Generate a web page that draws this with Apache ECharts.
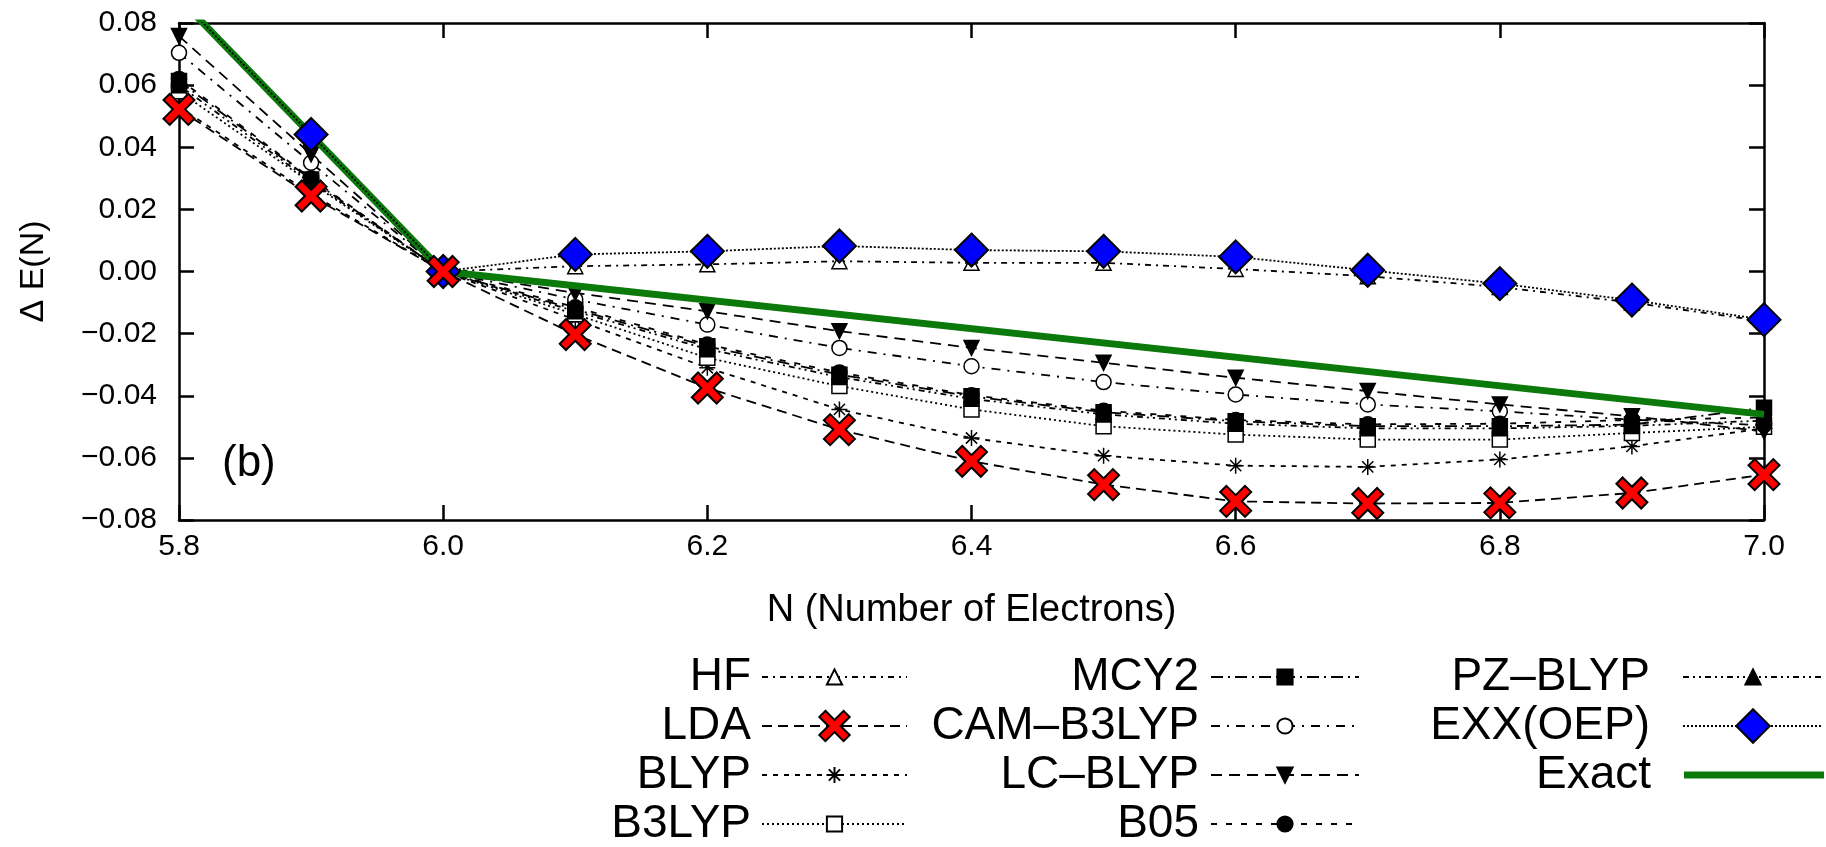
<!DOCTYPE html>
<html>
<head>
<meta charset="utf-8">
<script src="https://cdn.jsdelivr.net/npm/echarts@6/dist/echarts.min.js"></script>
<style>
  html, body { margin: 0; padding: 0; background: #fff; }
  #chart { width: 1826px; height: 847px; }
</style>
</head>
<body>
<div id="chart"></div>
<script>
// Number of electrons sampled on the x axis
const electronCount = [5.8, 5.9, 6.0, 6.1, 6.2, 6.3, 6.4, 6.5, 6.6, 6.7, 6.8, 6.9, 7.0];

// Delta E(N) for each method, one value per electron count
const hfValues    = [0.087, 0.043, 0, 0.0017, 0.0023, 0.0033, 0.0028, 0.0028, 0.0008, -0.0015, -0.0050, -0.0100, -0.0160];
const ldaValues   = [0.0522, 0.0243, 0, -0.0203, -0.0375, -0.0509, -0.0611, -0.0686, -0.0740, -0.0747, -0.0745, -0.0713, -0.0654];
const blypValues  = [0.0530, 0.0250, 0, -0.0155, -0.0310, -0.0444, -0.0536, -0.0593, -0.0625, -0.0629, -0.0605, -0.0563, -0.0505];
const b3lypValues = [0.0580, 0.0285, 0, -0.0138, -0.0278, -0.0369, -0.0444, -0.0498, -0.0525, -0.0541, -0.0541, -0.0520, -0.0500];
const mcy2Values  = [0.0613, 0.0296, 0, -0.0122, -0.0241, -0.0332, -0.0402, -0.0453, -0.0482, -0.0498, -0.0498, -0.0493, -0.0439];
const camValues   = [0.0704, 0.0350, 0, -0.0090, -0.0171, -0.0246, -0.0305, -0.0356, -0.0396, -0.0428, -0.0450, -0.0477, -0.0495];
const lcValues    = [0.0758, 0.0377, 0, -0.0069, -0.0128, -0.0192, -0.0246, -0.0294, -0.0342, -0.0385, -0.0428, -0.0466, -0.0515];
const b05Values   = [0.0620, 0.0300, 0, -0.0115, -0.0235, -0.0325, -0.0398, -0.0448, -0.0478, -0.0492, -0.0490, -0.0478, -0.0470];
const pzValues    = [0.0600, 0.0290, 0, -0.0128, -0.0250, -0.0340, -0.0410, -0.0460, -0.0490, -0.0505, -0.0505, -0.0497, -0.0480];
const exxValues   = [0.0880, 0.0441, 0, 0.0055, 0.0065, 0.0082, 0.0069, 0.0065, 0.0047, 0.0004, -0.0039, -0.0092, -0.0155];

// Exact piecewise-linear behaviour
const exactCount  = [5.8, 6.0, 7.0];
const exactValues = [0.088, 0.0, -0.046];

// Axis ranges and tick steps
const xRange = [5.8, 7.0];
const xStep = 0.2;
const yRange = [-0.08, 0.08];
const yStep = 0.02;

const FONT = 'Liberation Sans, Arial, Helvetica, sans-serif';
const pairs = (xs, ys) => xs.map((x, i) => [x, ys[i]]);

const crossPath = 'path://M2,0 L5,3 L8,0 L10,2 L7,5 L10,8 L8,10 L5,7 L2,10 L0,8 L3,5 L0,2 Z';
const starPath = 'path://M5,0 L5,10 M0,5 L10,5 M1.5,1.5 L8.5,8.5 M8.5,1.5 L1.5,8.5';

function methodSeries(name, values, opts) {
  return {
    name,
    type: 'line',
    data: pairs(electronCount, values),
    symbol: opts.symbol,
    symbolSize: opts.size || 15,
    symbolRotate: opts.rotate || 0,
    showAllSymbol: true,
    z: opts.z || 2,
    clip: true,
    lineStyle: { color: '#000', width: 1.8, type: opts.dash },
    itemStyle: Object.assign({ color: '#000', borderColor: '#000', borderWidth: 1.5 }, opts.item || {}),
    emphasis: { disabled: true },
    animation: false
  };
}

const series = [
  methodSeries('HF', hfValues, { symbol: 'triangle', item: { color: '#fff' }, dash: [6, 5, 2, 5] }),
  methodSeries('LDA', ldaValues, { symbol: crossPath, size: 31, z: 5, item: { color: '#ff0000', borderWidth: 2 }, dash: [10, 6] }),
  methodSeries('BLYP', blypValues, { symbol: starPath, size: 16, item: { color: 'rgba(0,0,0,0)' }, dash: [5, 6] }),
  methodSeries('B3LYP', b3lypValues, { symbol: 'rect', size: 15, item: { color: '#fff' }, dash: [2, 3] }),
  methodSeries('MCY2', mcy2Values, { symbol: 'rect', size: 15, dash: [12, 5, 2, 5] }),
  methodSeries('CAM\u2013B3LYP', camValues, { symbol: 'circle', size: 15, item: { color: '#fff' }, dash: [9, 7, 2, 7] }),
  methodSeries('LC\u2013BLYP', lcValues, { symbol: 'triangle', rotate: 180, size: 15, dash: [11, 7] }),
  methodSeries('B05', b05Values, { symbol: 'circle', size: 15, dash: [6, 9] }),
  methodSeries('PZ\u2013BLYP', pzValues, { symbol: 'triangle', size: 15, dash: [6, 4, 2, 4, 2, 4] }),
  methodSeries('EXX(OEP)', exxValues, { symbol: 'diamond', size: 33, z: 4, item: { color: '#0000ff', borderWidth: 2 }, dash: [2, 2] }),
  {
    name: 'Exact',
    type: 'line',
    data: pairs(exactCount, exactValues),
    symbol: 'none',
    z: 3,
    clip: true,
    lineStyle: { color: '#0b7a0b', width: 7 },
    itemStyle: { color: '#0b7a0b', borderColor: '#0b7a0b', borderWidth: 0 },
    emphasis: { disabled: true },
    animation: false
  }
];

// Legend: three columns of right-aligned names followed by a line sample
const colRight = [918, 466, 2];
const colIconWidth = [145, 148, 140];
const colTextPad = [6, 7, 28];
const rowCenter = [677, 726, 775, 824];
const legendFont = 46;
const legendLayout = [
  { name: 'HF', col: 0, row: 0, h: 19 },
  { name: 'LDA', col: 0, row: 1, h: 38 },
  { name: 'BLYP', col: 0, row: 2, h: 20 },
  { name: 'B3LYP', col: 0, row: 3, h: 19 },
  { name: 'MCY2', col: 1, row: 0, h: 19 },
  { name: 'CAM\u2013B3LYP', col: 1, row: 1, h: 19 },
  { name: 'LC\u2013BLYP', col: 1, row: 2, h: 19 },
  { name: 'B05', col: 1, row: 3, h: 19 },
  { name: 'PZ\u2013BLYP', col: 2, row: 0, h: 19 },
  { name: 'EXX(OEP)', col: 2, row: 1, h: 42 },
  { name: 'Exact', col: 2, row: 2, h: 7, icon: 'rect' }
];
const legends = legendLayout.map(it => ({
  data: [it.icon ? { name: it.name, icon: it.icon } : { name: it.name }],
  orient: 'vertical',
  align: 'right',
  right: colRight[it.col],
  top: rowCenter[it.row] - legendFont / 2,
  padding: 0,
  itemWidth: colIconWidth[it.col],
  itemHeight: it.h,
  selectedMode: false,
  textStyle: {
    fontFamily: FONT, fontSize: legendFont, lineHeight: legendFont, color: '#000',
    padding: [0, colTextPad[it.col], 0, 0]
  }
}));

const frameAxisLine = { show: true, onZero: false, lineStyle: { color: '#000', width: 2.5 } };
const innerTick = { show: true, inside: true, length: 15, lineStyle: { color: '#000', width: 2.5 } };

const option = {
  backgroundColor: '#fff',
  animation: false,
  grid: { left: 179, right: 62, top: 23, bottom: 327, containLabel: false },
  xAxis: [
    {
      type: 'value', min: xRange[0], max: xRange[1], interval: xStep,
      axisLine: frameAxisLine, axisTick: innerTick, splitLine: { show: false },
      axisLabel: { fontFamily: FONT, fontSize: 30, color: '#000', margin: 12, formatter: v => v.toFixed(1) },
      name: 'N (Number of Electrons)', nameLocation: 'middle', nameGap: 72,
      nameTextStyle: { fontFamily: FONT, fontSize: 38, color: '#000' }
    },
    {
      type: 'value', position: 'top', min: xRange[0], max: xRange[1], interval: xStep,
      axisLine: frameAxisLine, axisTick: innerTick, splitLine: { show: false }, axisLabel: { show: false }
    }
  ],
  yAxis: [
    {
      type: 'value', min: yRange[0], max: yRange[1], interval: yStep,
      axisLine: frameAxisLine, axisTick: innerTick, splitLine: { show: false },
      axisLabel: {
        fontFamily: FONT, fontSize: 30, color: '#000', margin: 22,
        formatter: v => (v < -1e-9 ? '\u2212' : '') + Math.abs(v).toFixed(2)
      },
      name: '\u0394 E(N)', nameLocation: 'middle', nameGap: 128,
      nameTextStyle: { fontFamily: FONT, fontSize: 34, color: '#000' }
    },
    {
      type: 'value', position: 'right', min: yRange[0], max: yRange[1], interval: yStep,
      axisLine: frameAxisLine, axisTick: innerTick, splitLine: { show: false }, axisLabel: { show: false }
    }
  ],
  legend: legends,
  graphic: [
    { type: 'text', left: 222, top: 442, style: { text: '(b)', fontFamily: FONT, fontSize: 44, fill: '#000' } }
  ],
  series
};

const chart = echarts.init(document.getElementById('chart'), null, { renderer: 'canvas' });
chart.setOption(option);
</script>
</body>
</html>
